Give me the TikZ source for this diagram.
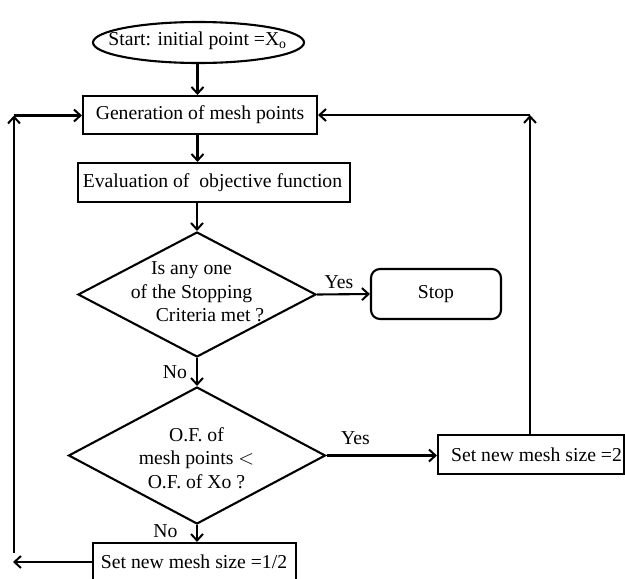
\documentclass[tikz,border=0pt]{standalone}
\usepackage{fontspec}
\setmainfont{Liberation Serif}
\usetikzlibrary{shapes.geometric,arrows.meta}
\begin{document}
\begin{tikzpicture}[x=1pt,y=-1pt,
  every node/.style={font=\fontsize{19.7}{23.5}\selectfont, inner sep=0pt},
  box/.style={draw, line width=2.1pt, rectangle},
  dia/.style={draw, line width=2.1pt, diamond, aspect=1.9},
  conn/.style={line width=2.1pt, -{Straight Barb[length=6.5pt,width=12pt,line width=2pt]}}]
\useasboundingbox (0,0) rectangle (625,579);

\node[draw, line width=2.1pt, ellipse, minimum width=211, minimum height=41] (start) at (198.5,42.5) {};
\node (starttxt) at (197.5,41) {Start: initial point =X\textsubscript{o}};

\node[box, minimum width=234, minimum height=38] (gen) at (200,115) {Generation of mesh points};
\node[box, minimum width=272, minimum height=39] (eval) at (214,182.5) {};
\node (evaltxt) at (212.5,182.5) {Evaluation of \ objective function};

\node[dia, minimum width=238, minimum height=125] (d1) at (197,294.5) {};
\node[align=center] (d1txt) at (191.5,292) {Is any one\\of the Stopping\\\hspace*{37pt}Criteria met ?};

\node[draw, line width=2.1pt, rounded corners=9pt, minimum width=130, minimum height=50] (stop) at (436,294) {Stop};

\node[dia, minimum width=257, minimum height=137] (d2) at (197,455.5) {};
\node[align=center] (d2txt) at (196.5,458) {O.F. of\\mesh points $<$\\O.F. of Xo ?};

\node[box, minimum width=186, minimum height=39] (set2) at (531,454.5) {};
\node (set2txt) at (536.5,454.5) {Set new mesh size =2};

\node[box, minimum width=203, minimum height=40] (half) at (194.5,563) {};
\node (halftxt) at (194,562) {Set new mesh size =1/2};

% labels
\node (yes1) at (339,282) {Yes};
\node (yes2) at (355.5,438) {Yes};
\node (no1) at (175,372) {No};
\node (no2) at (165.5,531) {No};

% coordinates for loops
\coordinate (lt) at (14,115.5);
\coordinate (lb) at (14,553);
\coordinate (la) at (13,562);
\coordinate (rt) at (530,115);

% main flow
\draw[conn] (start.south -| 197.5,0) -- (gen.north -| 197.5,0);
\draw[conn] (gen.south -| 197.5,0) -- (eval.north -| 197.5,0);
\draw[conn] (eval.south -| d1.north) -- (d1.north);
\draw[conn] (d1.east) -- (stop.west);
\draw[conn] (d1.south) -- (d2.north);
\draw[conn] (d2.east) -- (set2.west |- d2.east);
\draw[conn] (d2.south) -- (half.north -| d2.south);

% left loop
\draw[conn] (half.west |- la) -- (la);
\draw[conn] (lb) -- (lt);
\draw[conn] (lt) -- (gen.west |- lt);

% right loop
\draw[conn] (set2.north -| rt) -- (rt);
\draw[conn] (rt) -- (gen.east |- rt);
\end{tikzpicture}
\end{document}
